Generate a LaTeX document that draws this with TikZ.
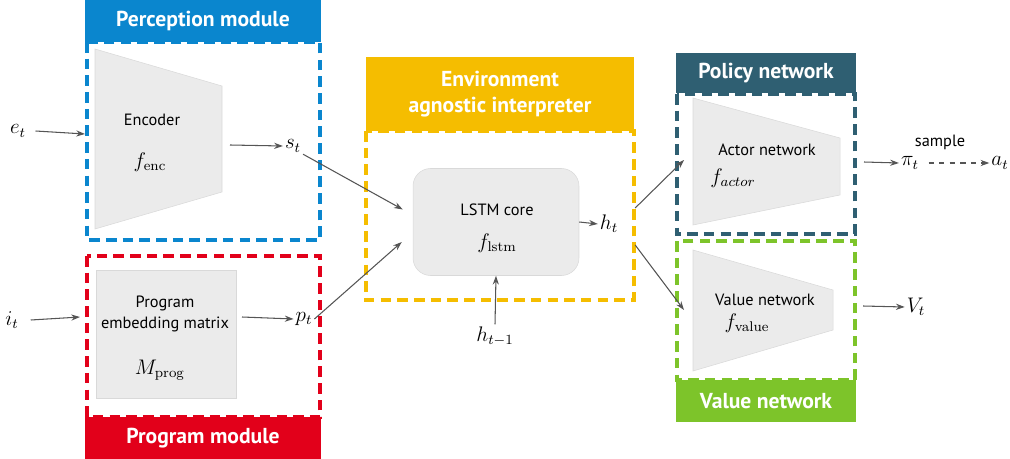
\documentclass[tikz,border=0pt]{standalone}
\usepackage[no-math]{fontspec}
\setsansfont{PT Sans}
\usetikzlibrary{arrows.meta}
\definecolor{percblue}{HTML}{0A86CE}
\definecolor{progred}{HTML}{E2001A}
\definecolor{interpyellow}{HTML}{F5BD00}
\definecolor{policyteal}{HTML}{2F5F72}
\definecolor{valuegreen}{HTML}{7DC42A}
\definecolor{netgray}{HTML}{EBEBEB}
\definecolor{arrowgray}{HTML}{555555}
\begin{document}
\begin{tikzpicture}[x=0.02cm,y=-0.02cm,
    arr/.style={draw=arrowgray,line width=0.6pt,-{Stealth[length=5pt,width=3.5pt]}},
    header/.style={fill=#1,text=white,font=\sffamily\bfseries\fontsize{12.3}{14.5}\selectfont,inner sep=0pt,align=center},
    dashbox/.style={draw=#1,line width=1.8pt,dash pattern=on 6pt off 3.5pt},
    netshape/.style={fill=netgray,draw=black!15,line width=0.3pt},
    txt/.style={font=\sffamily\fontsize{9.3}{12}\selectfont,align=center},
    sym/.style={font=\large,inner sep=1pt}]
        \useasboundingbox (0,0) rectangle (1010,459);

        % perception module
        \draw[dashbox=percblue] (87,42) rectangle (320,240);
        \node[header=percblue,minimum width=4.72cm,minimum height=0.84cm] (perchead) at (203,21) {Perception module};
        \draw[netshape] (95,49) -- (222,86) -- (222,192) -- (95,229) -- cycle;
        \node[txt] (enclabel) at (152,120) {Encoder};
        \node[sym] (fenc) at (150,162) {$f_{\mathrm{enc}}$};
        \node[sym] (et) at (18,131) {$e_t$};
        \coordinate (encin) at (85,134);
        \coordinate (encout) at (230,145);
        \node[sym] (st) at (293,146) {$s_t$};
        \draw[arr] (et.east) ++(0.15cm,0) -- (encin);
        \draw[arr] (encout) -- (st.west);

        % program module
        \draw[dashbox=progred] (87,256) rectangle (320,417);
        \node[header=progred,minimum width=4.72cm,minimum height=0.84cm] (proghead) at (203,438) {Program module};
        \draw[netshape] (96,270) rectangle (236,398);
        \node[txt] (matlabel) at (165,314) {Program\\embedding matrix};
        \node[sym] (mprog) at (160,370) {$M_{\mathrm{prog}}$};
        \node[sym] (it) at (12,320) {$i_t$};
        \coordinate (progin) at (80,317);
        \coordinate (progout) at (242,317);
        \node[sym] (pt) at (304,319) {$p_t$};
        \draw[arr] (it.east) ++(0.2cm,0) -- (progin);
        \draw[arr] (progout) -- (pt.west);

        % interpreter
        \draw[dashbox=interpyellow] (366,131) rectangle (634,300);
        \node[header=interpyellow,minimum width=5.36cm,minimum height=1.48cm] (interphead) at (500,94) {Environment\\agnostic interpreter};
        \node[netshape,rounded corners=0.35cm,minimum width=3.32cm,minimum height=2.14cm] (lstm) at (496,222) {};
        \node[txt] (lstmlabel) at (497,210) {LSTM core};
        \node[sym] (flstm) at (497,243) {$f_{\mathrm{lstm}}$};
        \node[sym] (ht) at (609,224) {$h_t$};
        \node[sym] (htprev) at (495,336) {$h_{t-1}$};
        \draw[arr] (st.south east) -- ([xshift=-0.2cm,yshift=0.25cm]lstm.west);
        \draw[arr] (pt.east) -- ([xshift=-0.22cm,yshift=-0.4cm]lstm.west);
        \draw[arr] (lstm.east) -- (ht.west);
        \draw[arr] (htprev.north) -- (lstm.south);

        % policy network
        \draw[dashbox=policyteal] (677,94) rectangle (855,234);
        \node[header=policyteal,minimum width=3.6cm,minimum height=0.82cm] (polhead) at (766,73) {Policy network};
        \draw[netshape] (693,98) -- (840,138) -- (840,195) -- (693,225) -- cycle;
        \node[txt] (actlabel) at (767,150) {Actor network};
        \node[sym] (factor) at (733,178) {$f_{actor}$};
        \coordinate (actin) at (684,160);
        \coordinate (actout) at (864,162);
        \node[sym] (pit) at (910,163) {$\pi_t$};
        \node[sym] (at) at (1000,163) {$a_t$};
        \node[txt] (samplelabel) at (940,142) {sample};
        \draw[arr] ([xshift=0.3cm,yshift=0.1cm]ht.north east) -- (actin);
        \draw[arr] (actout) -- (pit.west);
        \draw[arr,dashed] (pit.east) ++(0.15cm,0) -- (at.west);

        % value network
        \draw[dashbox=valuegreen] (677,241) rectangle (855,380);
        \node[header=valuegreen,minimum width=3.6cm,minimum height=0.84cm] (valhead) at (766,401) {Value network};
        \draw[netshape] (693,250) -- (833,290) -- (833,330) -- (693,371) -- cycle;
        \node[txt] (vallabel) at (765,300) {Value network};
        \node[sym] (fvalue) at (747,323) {$f_{\mathrm{value}}$};
        \coordinate (valin) at (684,310);
        \coordinate (valout) at (863,306);
        \node[sym] (vt) at (916,307) {$V_t$};
        \draw[arr] ([xshift=0.3cm,yshift=-0.2cm]ht.south east) -- (valin);
        \draw[arr] (valout) -- (vt.west);
\end{tikzpicture}
\end{document}
